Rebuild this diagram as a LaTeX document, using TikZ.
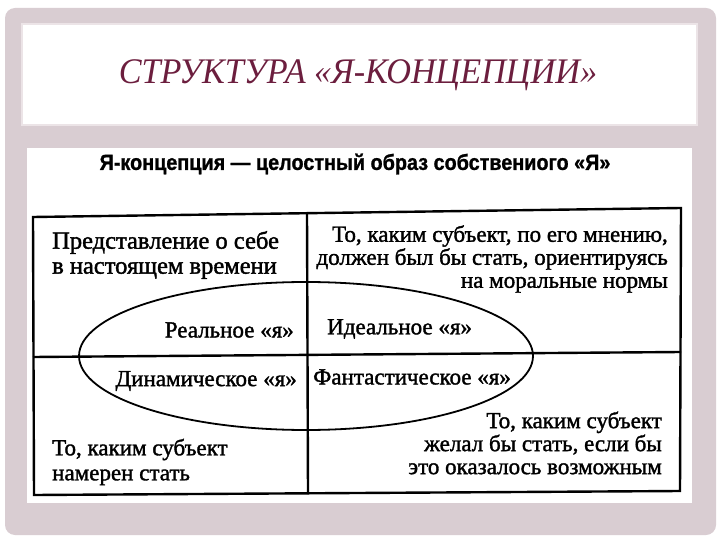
\documentclass[tikz,border=0pt]{standalone}
\usepackage{fontspec}
\setmainfont{LiberationSerif}[Extension=.ttf,UprightFont=*-Regular,BoldFont=*-Bold,ItalicFont=*-Italic,BoldItalicFont=*-BoldItalic]
\newfontfamily\titlefont{LiberationSerif}[Extension=.ttf,UprightFont=*-Italic,FakeStretch=0.95]
\newfontfamily\headfont{LiberationSans}[Extension=.ttf,UprightFont=*-Bold,FakeStretch=0.9,FakeBold=1]
\newfontfamily\bodyfont{LiberationSerif}[Extension=.ttf,UprightFont=*-Regular,FakeBold=1.5]
\definecolor{frame}{RGB}{217,205,210}
\definecolor{panelline}{RGB}{236,228,231}
\definecolor{titlecol}{RGB}{108,30,62}
\begin{document}
\begin{tikzpicture}[x=1pt,y=-1pt,
  txt/.style={inner sep=0pt,font=\bodyfont\fontsize{23}{23}\selectfont},
  txtl/.style={inner sep=0pt,font=\bodyfont\fontsize{24.5}{25}\selectfont},
  grid/.style={line width=2.4pt,black},
  oval/.style={line width=1.8pt,black}]
\useasboundingbox (0,0) rectangle (720,540);
\fill[white] (0,0) rectangle (720,540);
\fill[frame,rounded corners=10pt] (5,8) rectangle (716,535);
\fill[white,draw=panelline,line width=1.5pt] (22,24) rectangle (697,125);
\fill[white] (27,148) rectangle (692,503);
\node[inner sep=0pt,text=titlecol,font=\titlefont\fontsize{36}{40}\selectfont] (title) at (358,75) {СТРУКТУРА «Я-КОНЦЕПЦИИ»};
\node[inner sep=0pt,font=\headfont\fontsize{22}{24}\selectfont] (head) at (355,164) {Я-концепция — целостный образ собствениого «Я»};
% table
\coordinate (tl) at (33,217);
\coordinate (tm) at (307,213);
\coordinate (tr) at (681,208);
\coordinate (ml) at (33,357);
\coordinate (mr) at (681,352);
\coordinate (bl) at (34,495);
\coordinate (bm) at (308,494);
\coordinate (br) at (680,491);
\draw[grid] (tl) -- (tr) -- (br) -- (bl) -- cycle;
\draw[grid] (ml) -- (mr);
\draw[grid] (tm) -- (bm);
\draw[oval] (306,356) ellipse [x radius=227, y radius=74];
% texts
\node[txtl,align=left,anchor=west] (q1) at (52,255) {Представление о себе\\в настоящем времени};
\node[txt,align=right,anchor=east] (q2) at (668,259) {То, каким субъект, по его мнению,\\должен был бы стать, ориентируясь\\на моральные нормы};
\node[txt,anchor=east] (real) at (294,330) {Реальное «я»};
\node[txt,anchor=west] (ideal) at (327,329) {Идеальное «я»};
\node[txt,anchor=east] (dyn) at (297,381) {Динамическое «я»};
\node[txt,anchor=west] (fant) at (313,377) {Фантастическое «я»};
\node[txt,align=right,anchor=east] (q4) at (662,443) {То, каким субъект\\желал бы стать, если бы\\это оказалось возможным};
\node[txt,align=left,anchor=west,font=\bodyfont\fontsize{23}{25}\selectfont] (q3) at (52,462) {То, каким субъект\\намерен стать};
\end{tikzpicture}
\end{document}
